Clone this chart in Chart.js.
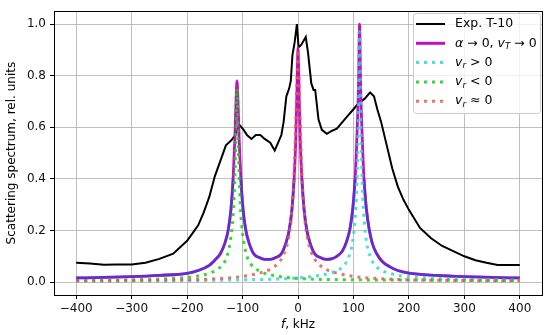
<!DOCTYPE html>
<html>
<head>
<meta charset="utf-8">
<script src="https://cdn.jsdelivr.net/npm/chart.js@4/dist/chart.umd.min.js"></script>
<style>
  html, body { margin: 0; padding: 0; background: #fff; }
  #wrap { width: 550px; height: 335px; }
</style>
</head>
<body>
<div id="wrap"><canvas id="chart" width="550" height="335"></canvas></div>
<script>
// Exp. T-10 (measured spectrum)
const expF = [-400, -375, -350, -325, -300, -275, -250, -225, -200, -190, -180, -170, -160, -150,
    -140, -130, -120, -113, -106, -98, -92, -84, -76, -68, -60, -50, -42, -36, -30, -26, -21, -16,
    -13, -10, -6, -2, 1, 6, 14, 18, 24, 28, 31, 37, 43, 52, 60, 70, 80, 90, 100, 110, 120, 130,
    137, 143, 150, 160, 170, 180, 190, 200, 220, 240, 260, 280, 300, 320, 340, 360, 380, 400];
const expS = [0.075, 0.072, 0.067, 0.068, 0.068, 0.075, 0.09, 0.11, 0.16, 0.19, 0.22, 0.27, 0.33, 0.41,
    0.47, 0.53, 0.55, 0.57, 0.61, 0.59, 0.57, 0.555, 0.57, 0.57, 0.555, 0.54, 0.51, 0.54, 0.57, 0.62, 0.72, 0.75,
    0.78, 0.88, 0.93, 1.0, 0.91, 0.92, 0.95, 0.89, 0.77, 0.745, 0.745, 0.63, 0.59, 0.575, 0.585, 0.595, 0.62, 0.645, 0.67, 0.695, 0.71, 0.735,
    0.72, 0.67, 0.62, 0.53, 0.44, 0.37, 0.32, 0.28, 0.21, 0.17, 0.14, 0.12, 0.1, 0.085, 0.075, 0.066, 0.066, 0.066];

// model: alpha -> 0, v_T -> 0
const modelF = [-400, -350, -300, -250, -200, -180, -160, -150, -140, -132, -126, -121, -117, -114, -111.5, -110,
    -108.5, -106, -103, -99, -94, -88, -80, -70, -60, -50, -40, -30, -22, -16, -11, -7, -4, -1.5, 0,
    1.5, 4, 7, 11, 16, 22, 30, 40, 50, 60, 70, 80, 88, 94, 99, 103, 106, 109, 111,
    113, 116, 119, 123, 128, 134, 142, 152, 165, 180, 200, 250, 300, 350, 400];
const modelS = [0.016, 0.018, 0.021, 0.026, 0.034, 0.045, 0.065, 0.085, 0.11, 0.15, 0.2, 0.28, 0.4, 0.55, 0.72, 0.78,
    0.72, 0.55, 0.4, 0.28, 0.2, 0.15, 0.11, 0.095, 0.088, 0.088, 0.095, 0.11, 0.15, 0.2, 0.28, 0.4, 0.55, 0.78, 0.91,
    0.78, 0.55, 0.4, 0.28, 0.2, 0.15, 0.11, 0.095, 0.088, 0.09, 0.1, 0.12, 0.16, 0.21, 0.29, 0.4, 0.55, 0.75, 1.0,
    0.75, 0.55, 0.4, 0.29, 0.21, 0.15, 0.11, 0.08, 0.06, 0.045, 0.035, 0.026, 0.021, 0.018, 0.016];

// v_r > 0
const posF = [-400, -200, -100, 0, 40, 60, 75, 85, 92, 98, 102, 105, 107, 109, 111,
    113, 115, 117, 120, 124, 130, 137, 147, 162, 182, 220, 300, 400];
const posS = [0.004, 0.006, 0.009, 0.016, 0.026, 0.036, 0.05, 0.07, 0.1, 0.15, 0.22, 0.32, 0.45, 0.65, 0.97,
    0.65, 0.45, 0.32, 0.22, 0.15, 0.1, 0.07, 0.05, 0.036, 0.026, 0.018, 0.011, 0.008];

// v_r < 0
const negF = [-400, -300, -250, -200, -180, -160, -145, -135, -128, -122, -117, -114, -112, -110,
    -108, -106, -103, -98, -92, -85, -75, -60, -40, -20, 20, 100, 200, 400];
const negS = [0.006, 0.009, 0.012, 0.018, 0.024, 0.034, 0.05, 0.07, 0.1, 0.16, 0.26, 0.4, 0.55, 0.75,
    0.55, 0.4, 0.26, 0.16, 0.1, 0.07, 0.05, 0.034, 0.024, 0.018, 0.012, 0.009, 0.008, 0.006];

// v_r ~ 0
const zeroF = [-400, -300, -200, -150, -100, -70, -50, -35, -25, -18, -12, -8, -5, -2, 0,
    2, 5, 8, 12, 18, 25, 35, 50, 70, 100, 150, 200, 300, 400];
const zeroS = [0.005, 0.006, 0.009, 0.013, 0.022, 0.035, 0.05, 0.075, 0.11, 0.16, 0.25, 0.38, 0.55, 0.78, 0.9,
    0.78, 0.55, 0.38, 0.25, 0.16, 0.11, 0.075, 0.05, 0.035, 0.022, 0.013, 0.009, 0.006, 0.005];

const xTicks = [-400, -300, -200, -100, 0, 100, 200, 300, 400];
const yTicks = [0.0, 0.2, 0.4, 0.6, 0.8, 1.0];

const FONT = "'DejaVu Sans', sans-serif";

function pts(xs, ys) {
    return xs.map((x, i) => ({ x: x, y: ys[i] }));
}

// draw text made of runs: { t, it, sub }
function drawRuns(ctx, runs, x, y, size) {
    let cx = x;
    runs.forEach((r) => {
        const s = r.sub ? size * 0.7 : size;
        ctx.font = (r.it ? "oblique " : "") + s + "px " + FONT;
        ctx.fillText(r.t, cx, r.sub ? y + size * 0.28 : y);
        cx += ctx.measureText(r.t).width;
    });
    return cx;
}

const legendItems = [
    { color: "#000", width: 2, dash: [], runs: [{ t: "Exp. T-10" }] },
    { color: "#c010c0", width: 3, dash: [], runs: [
        { t: "α", it: true }, { t: " → 0, " }, { t: "v", it: true }, { t: "T", it: true, sub: true }, { t: " → 0" }] },
    { color: "rgba(40,220,220,0.85)", width: 3, dash: [3, 5], runs: [
        { t: "v", it: true }, { t: "r", it: true, sub: true }, { t: " > 0" }] },
    { color: "rgba(20,210,20,0.85)", width: 3, dash: [3, 5], runs: [
        { t: "v", it: true }, { t: "r", it: true, sub: true }, { t: " < 0" }] },
    { color: "rgba(230,90,80,0.85)", width: 3, dash: [3, 5], runs: [
        { t: "v", it: true }, { t: "r", it: true, sub: true }, { t: " ≈ 0" }] },
];

const decorPlugin = {
    id: "decor",
    afterDatasetsDraw(chart) {
        const ctx = chart.ctx;
        const a = chart.chartArea;
        ctx.save();
        // frame
        ctx.strokeStyle = "#000";
        ctx.lineWidth = 1;
        ctx.strokeRect(Math.round(a.left) + 0.5, Math.round(a.top) + 0.5,
            Math.round(a.right - a.left), Math.round(a.bottom - a.top));

        // legend
        const bx = 413, by = 13, bw = 127, bh = 100;
        ctx.beginPath();
        ctx.roundRect(bx + 0.5, by + 0.5, bw, bh, 3);
        ctx.fillStyle = "rgba(255,255,255,0.8)";
        ctx.fill();
        ctx.strokeStyle = "#cccccc";
        ctx.stroke();
        ctx.textBaseline = "middle";
        ctx.fillStyle = "#000";
        legendItems.forEach((it, i) => {
            const y = 24 + i * 19.3;
            ctx.beginPath();
            ctx.setLineDash(it.dash);
            ctx.strokeStyle = it.color;
            ctx.lineWidth = it.width;
            ctx.moveTo(416, y);
            ctx.lineTo(445, y);
            ctx.stroke();
            ctx.setLineDash([]);
            ctx.fillStyle = "#000";
            drawRuns(ctx, it.runs, 455, y, 12.5);
        });

        // axis titles
        ctx.textBaseline = "middle";
        ctx.font = "oblique 12px " + FONT;
        const xl = [{ t: "f", it: true }, { t: ", kHz" }];
        let w = 0;
        xl.forEach((r) => {
            ctx.font = (r.it ? "oblique " : "") + "12px " + FONT;
            w += ctx.measureText(r.t).width;
        });
        drawRuns(ctx, xl, (a.left + a.right) / 2 - w / 2, 325, 12);

        ctx.translate(12, (a.top + a.bottom) / 2);
        ctx.rotate(-Math.PI / 2);
        ctx.textAlign = "center";
        ctx.font = "12px " + FONT;
        ctx.fillText("Scattering spectrum, rel. units", 0, 0);
        ctx.restore();
    },
};

const minus = (v) => (v < 0 ? "\u2212" + Math.abs(v) : String(v));

new Chart(document.getElementById("chart"), {
    type: "line",
    data: {
        datasets: [
            {
                label: "Exp. T-10",
                data: pts(expF, expS),
                borderColor: "#000",
                borderWidth: 2,
                pointRadius: 0,
                tension: 0,
                order: 6,
            },
            {
                label: "model",
                data: pts(modelF, modelS),
                borderColor: "#c010c0",
                borderWidth: 2.8,
                pointRadius: 0,
                cubicInterpolationMode: "monotone",
                order: 5,
            },
            {
                label: "model overlay",
                data: pts(modelF, modelS.map((v) => (v > 0.45 ? null : v))),
                borderColor: "rgba(45,60,215,0.6)",
                borderWidth: 2.8,
                pointRadius: 0,
                spanGaps: false,
                cubicInterpolationMode: "monotone",
                order: 4,
            },
            {
                label: "v_r > 0",
                data: pts(posF, posS),
                borderColor: "rgba(40,220,220,0.85)",
                borderWidth: 3,
                borderDash: [3, 5],
                pointRadius: 0,
                cubicInterpolationMode: "monotone",
                order: 3,
            },
            {
                label: "v_r < 0",
                data: pts(negF, negS),
                borderColor: "rgba(20,210,20,0.85)",
                borderWidth: 3,
                borderDash: [3, 5],
                pointRadius: 0,
                cubicInterpolationMode: "monotone",
                order: 2,
            },
            {
                label: "v_r ≈ 0",
                data: pts(zeroF, zeroS),
                borderColor: "rgba(230,90,80,0.85)",
                borderWidth: 3,
                borderDash: [3, 5],
                pointRadius: 0,
                cubicInterpolationMode: "monotone",
                order: 1,
            },
        ],
    },
    options: {
        responsive: false,
        animation: false,
        devicePixelRatio: 1,
        layout: { padding: { left: 0, right: 8, top: 8, bottom: 0 } },
        plugins: { legend: { display: false }, tooltip: { enabled: false } },
        scales: {
            x: {
                type: "linear",
                min: -440,
                max: 440,
                afterBuildTicks: (s) => { s.ticks = xTicks.map((v) => ({ value: v })); },
                afterFit: (s) => { s.height = 40; },
                grid: { color: "#b0b0b0", lineWidth: 0.8, tickLength: 4, tickColor: "#000", tickWidth: 1 },
                border: { display: false },
                ticks: {
                    color: "#111",
                    padding: 3,
                    maxRotation: 0,
                    font: { family: FONT, size: 12 },
                    callback: (v) => minus(v),
                },
            },
            y: {
                min: -0.05,
                max: 1.05,
                afterBuildTicks: (s) => { s.ticks = yTicks.map((v) => ({ value: v })); },
                afterFit: (s) => { s.width = 54; },
                grid: { color: "#b0b0b0", lineWidth: 0.8, tickLength: 4, tickColor: "#000", tickWidth: 1 },
                border: { display: false },
                ticks: {
                    color: "#111",
                    padding: 4,
                    font: { family: FONT, size: 12 },
                    callback: (v) => v.toFixed(1),
                },
            },
        },
    },
    plugins: [decorPlugin],
});
</script>
</body>
</html>
